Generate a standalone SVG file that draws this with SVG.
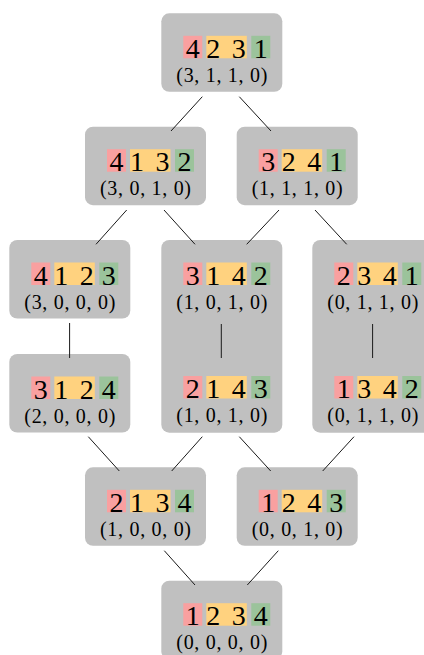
<svg xmlns="http://www.w3.org/2000/svg" width="424" height="655" viewBox="0 0 424 655">
<style>
.box{fill:#c0c0c0}
.r{fill:#f9a0a0}
.o{fill:#ffd27f}
.g{fill:#9bc39b}
.d{font-family:"Liberation Serif","Times New Roman",serif;font-size:28px;fill:#000;text-anchor:middle}
.t{font-family:"Liberation Serif","Times New Roman",serif;font-size:20px;fill:#000;text-anchor:middle}
.c line{stroke:#1a1a1a;stroke-width:1}
</style>
<defs>
<g id="perm">
<rect class="r" x="22" y="22.5" width="19" height="22.5"/>
<rect class="o" x="45" y="22.5" width="40.5" height="22.5"/>
<rect class="g" x="90" y="22.5" width="19" height="22.5"/>
</g>
</defs>
<g id="n4231" transform="translate(161.3,13.3)">
<rect class="box" width="121" height="78.5" rx="8"/>
<use href="#perm"/>
<text class="d" y="44.5"><tspan x="31.5">4</tspan><tspan x="52">2</tspan><tspan x="77.5">3</tspan><tspan x="99.5">1</tspan></text>
<text class="t" x="60.5" y="68.5" textLength="91" lengthAdjust="spacing">(3, 1, 1, 0)</text>
</g>
<g id="n4132" transform="translate(85,126.7)">
<rect class="box" width="121" height="78.5" rx="8"/>
<use href="#perm"/>
<text class="d" y="44.5"><tspan x="31.5">4</tspan><tspan x="52">1</tspan><tspan x="77.5">3</tspan><tspan x="99.5">2</tspan></text>
<text class="t" x="60.5" y="68.5" textLength="91" lengthAdjust="spacing">(3, 0, 1, 0)</text>
</g>
<g id="n3241" transform="translate(236.7,126.7)">
<rect class="box" width="121" height="78.5" rx="8"/>
<use href="#perm"/>
<text class="d" y="44.5"><tspan x="31.5">3</tspan><tspan x="52">2</tspan><tspan x="77.5">4</tspan><tspan x="99.5">1</tspan></text>
<text class="t" x="60.5" y="68.5" textLength="91" lengthAdjust="spacing">(1, 1, 1, 0)</text>
</g>
<g id="n4123" transform="translate(9.3,240)">
<rect class="box" width="121" height="78.5" rx="8"/>
<use href="#perm"/>
<text class="d" y="44.5"><tspan x="31.5">4</tspan><tspan x="52">1</tspan><tspan x="77.5">2</tspan><tspan x="99.5">3</tspan></text>
<text class="t" x="60.5" y="68.5" textLength="91" lengthAdjust="spacing">(3, 0, 0, 0)</text>
</g>
<g id="n3124" transform="translate(9.3,354)">
<rect class="box" width="121" height="78.5" rx="8"/>
<use href="#perm"/>
<text class="d" y="44.5"><tspan x="31.5">3</tspan><tspan x="52">1</tspan><tspan x="77.5">2</tspan><tspan x="99.5">4</tspan></text>
<text class="t" x="60.5" y="68.5" textLength="91" lengthAdjust="spacing">(2, 0, 0, 0)</text>
</g>
<g id="n3142-2143" transform="translate(161.3,240)">
<rect class="box" width="121" height="192.7" rx="8"/>
<use href="#perm"/>
<text class="d" y="44.5"><tspan x="31.5">3</tspan><tspan x="52">1</tspan><tspan x="77.5">4</tspan><tspan x="99.5">2</tspan></text>
<text class="t" x="60.5" y="68.5" textLength="91" lengthAdjust="spacing">(1, 0, 1, 0)</text>
<use href="#perm" y="113.5"/>
<text class="d" y="158"><tspan x="31.5">2</tspan><tspan x="52">1</tspan><tspan x="77.5">4</tspan><tspan x="99.5">3</tspan></text>
<text class="t" x="60.5" y="182" textLength="91" lengthAdjust="spacing">(1, 0, 1, 0)</text>
</g>
<g id="n2341-1342" transform="translate(312.3,240)">
<rect class="box" width="121" height="192.7" rx="8"/>
<use href="#perm"/>
<text class="d" y="44.5"><tspan x="31.5">2</tspan><tspan x="52">3</tspan><tspan x="77.5">4</tspan><tspan x="99.5">1</tspan></text>
<text class="t" x="60.5" y="68.5" textLength="91" lengthAdjust="spacing">(0, 1, 1, 0)</text>
<use href="#perm" y="113.5"/>
<text class="d" y="158"><tspan x="31.5">1</tspan><tspan x="52">3</tspan><tspan x="77.5">4</tspan><tspan x="99.5">2</tspan></text>
<text class="t" x="60.5" y="182" textLength="91" lengthAdjust="spacing">(0, 1, 1, 0)</text>
</g>
<g id="n2134" transform="translate(85,467.3)">
<rect class="box" width="121" height="78.5" rx="8"/>
<use href="#perm"/>
<text class="d" y="44.5"><tspan x="31.5">2</tspan><tspan x="52">1</tspan><tspan x="77.5">3</tspan><tspan x="99.5">4</tspan></text>
<text class="t" x="60.5" y="68.5" textLength="91" lengthAdjust="spacing">(1, 0, 0, 0)</text>
</g>
<g id="n1243" transform="translate(236.7,467.3)">
<rect class="box" width="121" height="78.5" rx="8"/>
<use href="#perm"/>
<text class="d" y="44.5"><tspan x="31.5">1</tspan><tspan x="52">2</tspan><tspan x="77.5">4</tspan><tspan x="99.5">3</tspan></text>
<text class="t" x="60.5" y="68.5" textLength="91" lengthAdjust="spacing">(0, 0, 1, 0)</text>
</g>
<g id="n1234" transform="translate(161.3,580.7)">
<rect class="box" width="121" height="78.5" rx="8"/>
<use href="#perm"/>
<text class="d" y="44.5"><tspan x="31.5">1</tspan><tspan x="52">2</tspan><tspan x="77.5">3</tspan><tspan x="99.5">4</tspan></text>
<text class="t" x="60.5" y="68.5" textLength="91" lengthAdjust="spacing">(0, 0, 0, 0)</text>
</g>
<g id="connectors" class="c">
<line x1="202.3" y1="96.7" x2="171" y2="131"/>
<line x1="239.3" y1="96.7" x2="271" y2="131"/>
<line x1="126.7" y1="210" x2="96" y2="244.3"/>
<line x1="164" y1="210" x2="195" y2="244.3"/>
<line x1="279" y1="210" x2="246.7" y2="244.3"/>
<line x1="315" y1="210" x2="346.7" y2="244.3"/>
<line x1="69.6" y1="323" x2="69.6" y2="358"/>
<line x1="221.3" y1="324" x2="221.3" y2="358"/>
<line x1="372.6" y1="324" x2="372.6" y2="358"/>
<line x1="88.3" y1="436.7" x2="119.3" y2="471"/>
<line x1="202.3" y1="436.7" x2="171.7" y2="471"/>
<line x1="239.3" y1="436.7" x2="270.7" y2="471"/>
<line x1="354" y1="436.7" x2="322.7" y2="471"/>
<line x1="164.3" y1="550.7" x2="195" y2="585"/>
<line x1="278.3" y1="550.7" x2="247.3" y2="585"/>
</g>
</svg>
